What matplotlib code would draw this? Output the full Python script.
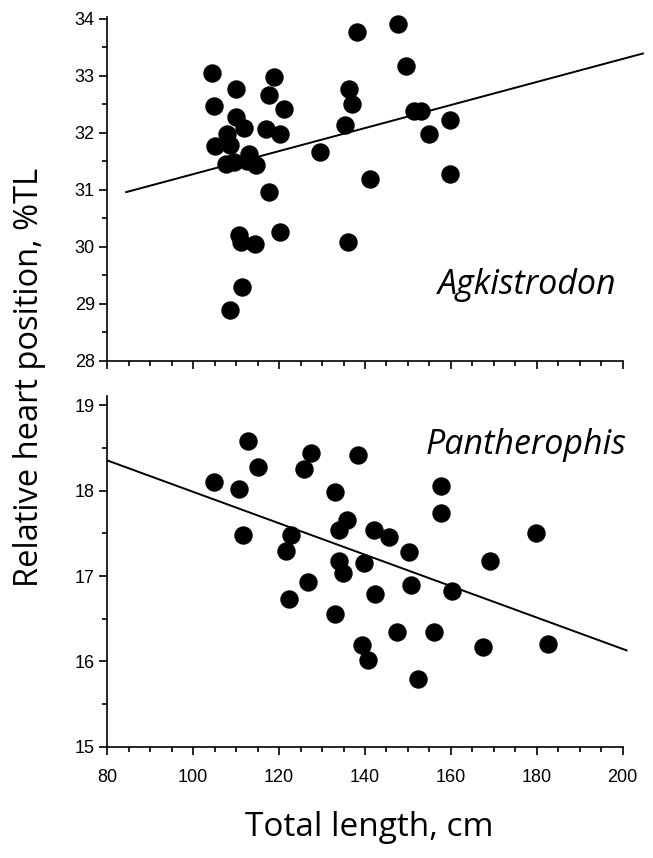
import matplotlib.pyplot as plt
from matplotlib.ticker import MultipleLocator

# Agkistrodon (top panel)
agk_len = [104.3, 104.8, 109.9, 118.7, 117.7, 121.1, 109.9, 111.9, 107.8, 116.9,
           120.2, 105.1, 108.6, 107.6, 109.6, 112.9, 112.5, 114.7, 129.6, 117.7,
           141.1, 138.2, 136.2, 136.9, 135.3, 147.75, 149.5, 151.4, 153.0, 159.9,
           154.9, 159.9, 110.6, 111.1, 114.5, 120.2, 136.1, 111.4, 108.6]
agk_pos = [33.04, 32.47, 32.76, 32.97, 32.66, 32.42, 32.28, 32.09, 31.98, 32.07,
           31.97, 31.76, 31.79, 31.45, 31.48, 31.63, 31.50, 31.44, 31.66, 30.97,
           31.19, 33.76, 32.76, 32.51, 32.13, 33.90, 33.17, 32.39, 32.39, 32.23,
           31.98, 31.28, 30.21, 30.09, 30.05, 30.26, 30.08, 29.30, 28.90]
agk_fit_x = [84.4, 204.7]
agk_fit_y = [30.96, 33.39]

# Pantherophis (bottom panel)
pan_len = [104.8, 110.6, 112.8, 115.0, 111.5, 127.4, 125.7, 138.3, 133.1, 122.8,
           121.5, 135.7, 134.0, 142.2, 134.0, 134.8, 139.8, 126.8, 122.3, 142.4,
           145.6, 157.8, 157.8, 179.9, 150.3, 169.0, 150.7, 160.2, 133.1, 147.4,
           156.1, 139.4, 140.7, 167.4, 182.6, 152.3]
pan_pos = [18.10, 18.02, 18.58, 18.27, 17.48, 18.44, 18.25, 18.42, 17.98, 17.48,
           17.29, 17.65, 17.54, 17.54, 17.17, 17.04, 17.15, 16.93, 16.73, 16.79,
           17.46, 18.05, 17.74, 17.50, 17.28, 17.17, 16.90, 16.82, 16.55, 16.34,
           16.35, 16.19, 16.02, 16.17, 16.21, 15.79]
pan_fit_x = [80.1, 200.9]
pan_fit_y = [18.35, 16.13]

xticks = [80, 100, 120, 140, 160, 180, 200]

plt.rcParams['font.family'] = ['Liberation Sans', 'DejaVu Sans']

fig = plt.figure(figsize=(6.53, 8.58), dpi=100)
ax1 = fig.add_axes([0.1643, 0.5793, 0.7893, 0.4009])
ax2 = fig.add_axes([0.1643, 0.1294, 0.7893, 0.4085])


def style(ax, ylim, show_labels):
    ax.set_xlim(80, 200)
    ax.set_ylim(*ylim)
    ax.spines['top'].set_visible(False)
    ax.spines['right'].set_visible(False)
    ax.spines['left'].set_linewidth(1.2)
    ax.spines['bottom'].set_linewidth(1.2)
    ax.set_xticks(xticks)
    ax.xaxis.set_minor_locator(MultipleLocator(5))
    ax.yaxis.set_major_locator(MultipleLocator(1))
    ax.yaxis.set_minor_locator(MultipleLocator(0.5))
    ax.tick_params(which='major', direction='out', length=6, width=1.2,
                   labelsize=13, colors='black', pad=3)
    ax.tick_params(which='minor', direction='out', length=3.5, width=1.2)
    ax.tick_params(axis='x', which='major', pad=10)
    if not show_labels:
        ax.tick_params(axis='x', labelbottom=False)


style(ax1, (28, 34.03), False)
style(ax2, (15, 19.1), True)

ax1.scatter(agk_len, agk_pos, s=150, color='black', zorder=3, clip_on=False)
ax1.plot(agk_fit_x, agk_fit_y, color='black', lw=1.4, clip_on=False)
ax2.scatter(pan_len, pan_pos, s=150, color='black', zorder=3, clip_on=False)
ax2.plot(pan_fit_x, pan_fit_y, color='black', lw=1.4, clip_on=False)

fig.text(0.807, 0.668, 'Agkistrodon', family=['Open Sans', 'DejaVu Sans'],
         style='italic', fontsize=24.5, ha='center', va='center')
fig.text(0.806, 0.481, 'Pantherophis', family=['Open Sans', 'DejaVu Sans'],
         style='italic', fontsize=24.5, ha='center', va='center')

fig.text(0.565, 0.036, 'Total length, cm', family=['Open Sans', 'DejaVu Sans'],
         fontsize=24, ha='center', va='center')
fig.text(0.045, 0.56, 'Relative heart position, %TL',
         family=['Open Sans', 'DejaVu Sans'], fontsize=23.5,
         rotation=90, ha='center', va='center')

fig.savefig('out.png', dpi=100)
